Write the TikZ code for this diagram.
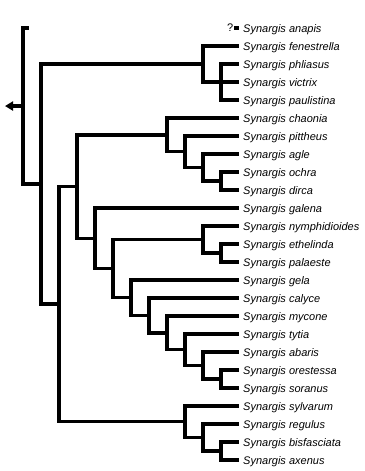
\documentclass[tikz,border=0pt]{standalone}
\usepackage{fontspec}
\setmainfont{Liberation Sans}
\usetikzlibrary{arrows.meta}
\begin{document}
\begin{tikzpicture}[x=1pt,y=-1pt,
  br/.style={line width=3.4pt, line join=miter},
  taxon/.style={anchor=base west, inner sep=0pt, font=\fontsize{11}{13}\selectfont\itshape}]
\useasboundingbox (0,0) rectangle (364,471);
% taxa (row i at y = 28 + 18 i)
\foreach \i/\n in {0/anapis,1/fenestrella,2/phliasus,3/victrix,4/paulistina,
  5/chaonia,6/pittheus,7/agle,8/ochra,9/dirca,10/galena,11/nymphidioides,
  12/ethelinda,13/palaeste,14/gela,15/calyce,16/mycone,17/tytia,18/abaris,
  19/orestessa,20/soranus,21/sylvarum,22/regulus,23/bisfasciata,24/axenus}{
  \node[taxon] (t\i) at (243,{28+18*\i+4}) {Synargis \n};
  \coordinate (e\i) at (239,{28+18*\i});
}
% anapis (uncertain position)
\coordinate (a0) at (29,28);
\coordinate (q0) at (234,28);
\node[anchor=east, inner sep=0pt, font=\fontsize{11}{13}\selectfont] (qm) at (233.5,28) {?};
\draw[br] (q0) -- (e0);
% internal nodes
\coordinate (R)  at (23,106.04);
\coordinate (A)  at (41,184.08);
\coordinate (B)  at (203,64);
\coordinate (D)  at (221,82);
\coordinate (C)  at (59,304.17);
\coordinate (E)  at (77,186.59);
\coordinate (G)  at (167,134.875);
\coordinate (Q3) at (185,151.75);
\coordinate (Q2) at (203,167.5);
\coordinate (Q1) at (221,181);
\coordinate (H)  at (95,238.3);
\coordinate (I)  at (113,268.61);
\coordinate (J)  at (203,239.5);
\coordinate (J2) at (221,253);
\coordinate (K)  at (131,297.72);
\coordinate (L)  at (149,315.44);
\coordinate (M)  at (167,332.875);
\coordinate (N)  at (185,349.75);
\coordinate (O)  at (203,365.5);
\coordinate (P)  at (221,379);
\coordinate (F)  at (185,421.75);
\coordinate (S2) at (203,437.5);
\coordinate (S1) at (221,451);
\coordinate (tip) at (5,106.04);
% branches
\draw[br] (R) |- (a0);  \draw[br] (R) |- (A);
\draw[br,-{Triangle[length=8pt,width=9pt]}] (R) -- (tip);
\draw[br] (A) |- (B);   \draw[br] (A) |- (C);
\draw[br] (B) |- (e1);  \draw[br] (B) |- (D);
\draw[br] (D) |- (e2);  \draw[br] (D) |- (e3);  \draw[br] (D) |- (e4);
\draw[br] (C) |- (E);   \draw[br] (C) |- (F);
\draw[br] (E) |- (G);   \draw[br] (E) |- (H);
\draw[br] (G) |- (e5);  \draw[br] (G) |- (Q3);
\draw[br] (Q3) |- (e6); \draw[br] (Q3) |- (Q2);
\draw[br] (Q2) |- (e7); \draw[br] (Q2) |- (Q1);
\draw[br] (Q1) |- (e8); \draw[br] (Q1) |- (e9);
\draw[br] (H) |- (e10); \draw[br] (H) |- (I);
\draw[br] (I) |- (J);   \draw[br] (I) |- (K);
\draw[br] (J) |- (e11); \draw[br] (J) |- (J2);
\draw[br] (J2) |- (e12); \draw[br] (J2) |- (e13);
\draw[br] (K) |- (e14); \draw[br] (K) |- (L);
\draw[br] (L) |- (e15); \draw[br] (L) |- (M);
\draw[br] (M) |- (e16); \draw[br] (M) |- (N);
\draw[br] (N) |- (e17); \draw[br] (N) |- (O);
\draw[br] (O) |- (e18); \draw[br] (O) |- (P);
\draw[br] (P) |- (e19); \draw[br] (P) |- (e20);
\draw[br] (F) |- (e21); \draw[br] (F) |- (S2);
\draw[br] (S2) |- (e22); \draw[br] (S2) |- (S1);
\draw[br] (S1) |- (e23); \draw[br] (S1) |- (e24);
\end{tikzpicture}
\end{document}
